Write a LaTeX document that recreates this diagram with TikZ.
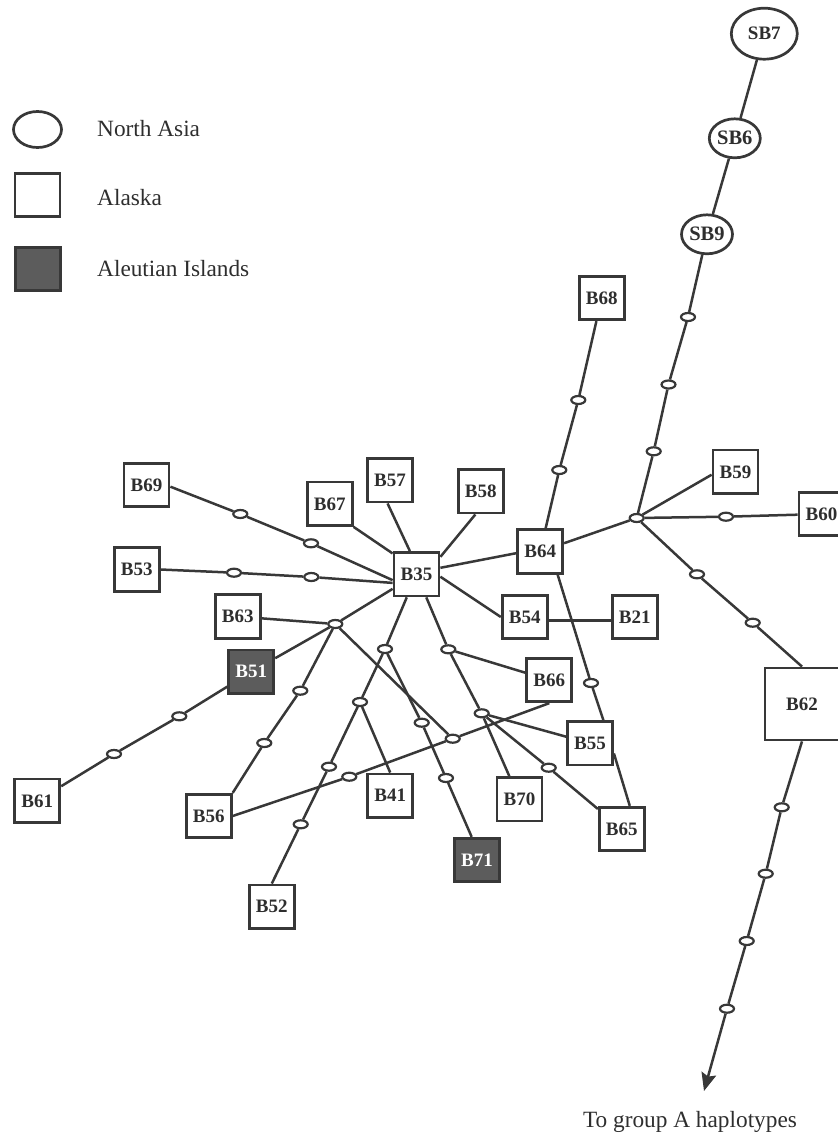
\documentclass[tikz,border=0pt]{standalone}
\usepackage{fontspec}
\setmainfont{Liberation Serif}
\usetikzlibrary{shapes.geometric,arrows.meta}
\definecolor{ink}{HTML}{383838}
\definecolor{aleut}{HTML}{5C5C5C}
\definecolor{labelgray}{HTML}{2E2E2E}
\pgfdeclarelayer{links}
\pgfsetlayers{links,main}
\tikzset{
  hap/.style={draw=ink, line width=2.8pt, fill=white, rectangle,
    minimum width=45pt, minimum height=43.5pt, inner sep=0pt,
    text=labelgray, font=\fontsize{19}{19}\selectfont\bfseries},
  aleutian/.style={hap, fill=aleut, text=white},
  asia/.style={draw=ink, line width=2.7pt, fill=white, ellipse, inner sep=0pt,
    minimum width=51pt, minimum height=39pt,
    text=labelgray, font=\fontsize{20.5}{20.5}\selectfont\bfseries},
  mv/.style={draw=ink, line width=2.2pt, fill=white, ellipse, inner sep=0pt,
    minimum width=14pt, minimum height=8pt},
  link/.style={draw=ink, line width=2.5pt},
  legendtext/.style={anchor=base west, inner sep=0pt, text=labelgray,
    font=\fontsize{23.3}{23.3}\selectfont},
}
\begin{document}
\begin{tikzpicture}[x=1pt,y=-1pt]
\useasboundingbox (0,0) rectangle (838,1136);

% legend
\node[asia, minimum width=48pt, minimum height=36pt] (lgA) at (37.5,129.5) {};
\node[hap] (lgB) at (37.5,195) {};
\node[aleutian] (lgC) at (38,269) {};
\node[legendtext] (lgtA) at (97,136.7) {North Asia};
\node[legendtext] (lgtB) at (97,205) {Alaska};
\node[legendtext] (lgtC) at (97,276.7) {Aleutian Islands};

% North Asian haplotypes
\node[asia, minimum width=66pt, minimum height=51pt, font=\fontsize{19}{19}\selectfont\bfseries] (SB7) at (764.3,33.7) {SB7};
\node[asia] (SB6) at (734.8,138.3) {SB6};
\node[asia] (SB9) at (707,234.3) {SB9};

% Alaskan and Aleutian haplotypes
\node[hap] (B68) at (601.7,298) {B68};
\node[hap] (B69) at (146.5,485) {B69};
\node[hap] (B57) at (390,480.3) {B57};
\node[hap] (B58) at (480.7,491.3) {B58};
\node[hap] (B67) at (329.7,503.8) {B67};
\node[hap] (B59) at (735.5,471.8) {B59};
\node[hap] (B60) at (821.5,514) {B60};
\node[hap] (B53) at (136.7,569.5) {B53};
\node[hap] (B35) at (416.5,574.2) {B35};
\node[hap] (B64) at (540.2,551.5) {B64};
\node[hap] (B63) at (237.8,616.5) {B63};
\node[hap] (B54) at (524.7,617) {B54};
\node[hap] (B21) at (634.7,617) {B21};
\node[aleutian] (B51) at (251.3,671.8) {B51};
\node[hap] (B66) at (549.3,680) {B66};
\node[hap, minimum width=74pt, minimum height=72pt] (B62) at (802,704) {B62};
\node[hap] (B55) at (590,743.3) {B55};
\node[hap] (B61) at (37.3,800.8) {B61};
\node[hap] (B41) at (390.2,795.7) {B41};
\node[hap] (B70) at (519.5,799.3) {B70};
\node[hap] (B56) at (208.8,816) {B56};
\node[hap] (B65) at (621.8,829) {B65};
\node[aleutian] (B71) at (477,860) {B71};
\node[hap] (B52) at (271.8,906.7) {B52};

% median vectors / missing intermediates
\node[mv] (m1) at (688,317) {};
\node[mv] (m2) at (668.5,384.5) {};
\node[mv] (m3) at (653.7,451.3) {};
\node[mv] (hub) at (636.7,518) {};
\node[mv] (m60) at (726,516.7) {};
\node[mv] (m62a) at (697,574.3) {};
\node[mv] (m62b) at (752.7,622.7) {};
\node[mv] (a1) at (781.7,807.3) {};
\node[mv] (a2) at (765.7,873.7) {};
\node[mv] (a3) at (746.7,941) {};
\node[mv] (a4) at (727,1008.7) {};
\node[mv] (m68a) at (578.3,400) {};
\node[mv] (m68b) at (559.3,470) {};
\node[mv] (m55) at (591,683) {};
\node[mv] (m69a) at (240.3,514) {};
\node[mv] (m69b) at (311,543.3) {};
\node[mv] (m53a) at (234,572.7) {};
\node[mv] (m53b) at (311.3,577) {};
\node[mv] (hub2) at (335.3,624) {};
\node[mv] (m56a) at (300.3,690.7) {};
\node[mv] (m56b) at (264.3,743) {};
\node[mv] (X) at (452.7,738.7) {};
\node[mv] (m56c) at (349.3,776.7) {};
\node[mv] (m61a) at (179.3,716.3) {};
\node[mv] (m61b) at (114,754) {};
\node[mv] (d1) at (385,649) {};
\node[mv] (d2) at (360,702) {};
\node[mv] (d3) at (329,766.7) {};
\node[mv] (d4) at (300.7,824.3) {};
\node[mv] (e1) at (421.7,722.7) {};
\node[mv] (e2) at (446,778) {};
\node[mv] (f1) at (448.3,649.3) {};
\node[mv] (f2) at (481.7,713.3) {};
\node[mv] (f3) at (548.7,767.7) {};

\coordinate (tip) at (704,1091);
\node[legendtext, anchor=base] (toA) at (690,1127.5) {To group A haplotypes};

\begin{pgfonlayer}{links}
\draw[link] (SB7) -- (SB6) -- (SB9) -- (m1) -- (m2) -- (m3) -- (hub);
\draw[link] (hub) -- (B59.187);
\draw[link] (hub) -- (m60) -- (B60);
\draw[link] (hub) -- (m62a) -- (m62b) -- (B62.north);
\draw[link, -{Stealth[length=18pt,width=15pt,inset=3pt]}] (B62.south) -- (a1) -- (a2) -- (a3) -- (a4) -- (tip);
\draw[link] (B64) -- (hub);
\draw[link] (B64) -- (m68b) -- (m68a) -- (B68);
\draw[link] (B64.-53) -- (m55) -- (B55.60);
\draw[link] (B55.-23) -- (B65.71);
\draw[link] (B35.15) -- (B64.184);
\draw[link] (B35.-6) -- (B54.west);
\draw[link] (B54.-8) -- (B21.188);
\draw[link] (B57.264) -- (B35.106);
\draw[link] (B58.257) -- (B35.36);
\draw[link] (B67.-44) -- (B35.139);
\draw[link] (B69.-4) -- (m69a) -- (m69b) -- (B35.194);
\draw[link] (B53.east) -- (m53a) -- (m53b) -- (B35.200);
\draw[link] (B35) -- (hub2) -- (B51) -- (m61a) -- (m61b) -- (B61);
\draw[link] (B63) -- (hub2);
\draw[link] (hub2) -- (m56a) -- (m56b) -- (B56.north east);
\draw[link] (hub2) -- (X);
\draw[link] (B56.east) -- (m56c) -- (X) -- (B66.south);
\draw[link] (B35) -- (d1) -- (d2) -- (d3) -- (d4) -- (B52.north);
\draw[link] (d2) -- (B41.north);
\draw[link] (d1) -- (e1) -- (e2) -- (B71.103);
\draw[link] (B35) -- (f1) -- (f2) -- (B70);
\draw[link] (f1) -- (B66);
\draw[link] (f2) -- (B55);
\draw[link] (f2) -- (f3) -- (B65);
\end{pgfonlayer}
\end{tikzpicture}
\end{document}
